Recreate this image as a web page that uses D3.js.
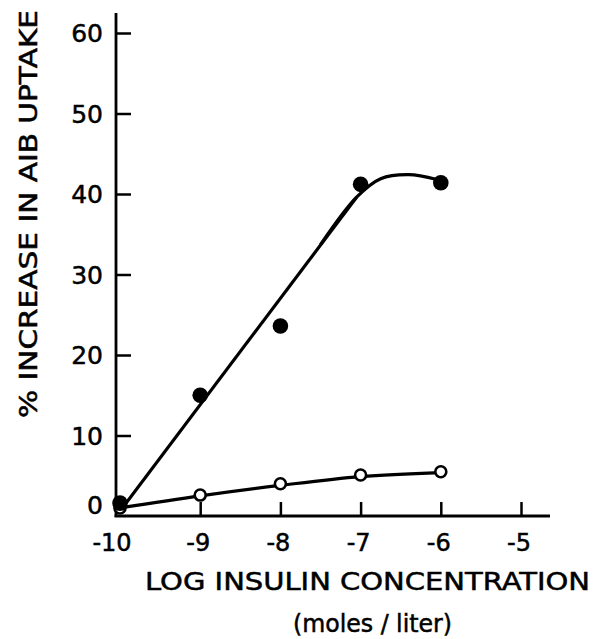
<!DOCTYPE html>
<html>
<head>
<meta charset="utf-8">
<script src="https://cdn.jsdelivr.net/npm/d3@7"></script>
<style>
  body { margin: 0; background: #fff; }
  text { font-family: "DejaVu Sans", sans-serif; fill: #000; stroke: #000; stroke-width: 0.5; }
</style>
</head>
<body>
<div id="graph"></div>
<script>
var svgWidth = 602;
var svgHeight = 639;

// text
var yAxisTitleText = "% INCREASE IN AIB UPTAKE";
var xAxisTitleText = "LOG INSULIN CONCENTRATION";
var xAxisUnitText = "(moles / liter)";

// data
var logConc = [-10, -9, -8, -7, -6];
var insulinFilled = [1.6, 15.0, 23.6, 41.2, 41.4];
var insulinOpen = [1.0, 2.6, 4.0, 5.1, 5.5];

// hand-drawn fitted line: straight part, then the bend at the top
var fitStraightX = [-10, -7.05];
var fitStraightY = [0.6, 39.6];
var fitBendX = [-7.5, -7.05, -6.75, -6.4, -6.05];
var fitBendY = [33.7, 39.6, 41.9, 42.4, 41.8];

// hand-drawn line through the open points
var openLineX = [-10, -9, -8, -7, -6];
var openLineY = [1.0, 2.5, 3.8, 4.9, 5.4];

var xTicks = [-10, -9, -8, -7, -6, -5];
var yTicks = [0, 10, 20, 30, 40, 50, 60];

var xScale = d3.scaleLinear().domain([-10, -5]).range([120, 521]);
var yScale = d3.scaleLinear().domain([0, 60]).range([516, 33]);

var axisX = 116;   // y axis line position
var axisY = 516;   // x axis line position

var svg = d3.select("#graph")
  .append("svg")
  .attr("width", svgWidth)
  .attr("height", svgHeight);

// y axis
var yAxisGroup = svg.append("g").attr("transform", "translate(" + axisX + ",0)");
yAxisGroup.call(d3.axisRight(yScale).tickValues(yTicks.slice(1)).tickSize(15).tickFormat(""));
yAxisGroup.select(".domain").remove();
yAxisGroup.selectAll(".tick line").attr("stroke", "#000").attr("stroke-width", 2.5);
yAxisGroup.append("line")
  .attr("x1", 0).attr("x2", 0)
  .attr("y1", 13).attr("y2", axisY + 1)
  .attr("stroke", "#000").attr("stroke-width", 2.8);

// y tick labels
svg.append("g").selectAll("text")
  .data(yTicks)
  .enter().append("text")
  .attr("x", 103)
  .attr("y", function(d) { return yScale(d) + (d === 0 ? -2 : 9); })
  .attr("text-anchor", "end")
  .attr("font-size", 25)
  .text(function(d) { return d; });

// x axis
var xAxisGroup = svg.append("g").attr("transform", "translate(0," + axisY + ")");
xAxisGroup.call(d3.axisTop(xScale).tickValues(xTicks.slice(1)).tickSize(14).tickFormat(""));
xAxisGroup.select(".domain").remove();
xAxisGroup.selectAll(".tick line").attr("stroke", "#000").attr("stroke-width", 2.5);
xAxisGroup.append("line")
  .attr("x1", axisX - 1.4).attr("x2", 550)
  .attr("y1", 0).attr("y2", 0)
  .attr("stroke", "#000").attr("stroke-width", 2.8);

// x tick labels
svg.append("g").selectAll("text")
  .data(xTicks)
  .enter().append("text")
  .attr("x", function(d) { return xScale(d) - (d === -10 ? 8 : 2); })
  .attr("y", 551)
  .attr("text-anchor", "middle")
  .attr("font-size", 24)
  .text(function(d) { return "-" + Math.abs(d); });

// axis titles
svg.append("text")
  .attr("x", 145)
  .attr("y", 590)
  .attr("font-size", 24)
  .attr("textLength", 445)
  .attr("lengthAdjust", "spacingAndGlyphs")
  .text(xAxisTitleText);

svg.append("text")
  .attr("x", 293)
  .attr("y", 632)
  .attr("font-size", 24)
  .attr("textLength", 159)
  .attr("lengthAdjust", "spacingAndGlyphs")
  .text(xAxisUnitText);

svg.append("text")
  .attr("transform", "translate(37,418) rotate(-90)")
  .attr("x", 0)
  .attr("y", 0)
  .attr("font-size", 24)
  .attr("textLength", 408)
  .attr("lengthAdjust", "spacingAndGlyphs")
  .text(yAxisTitleText);

// lines
var straightLine = d3.line()
  .x(function(d) { return xScale(d[0]); })
  .y(function(d) { return yScale(d[1]); });

var bendLine = d3.line()
  .x(function(d) { return xScale(d[0]); })
  .y(function(d) { return yScale(d[1]); })
  .curve(d3.curveCatmullRom);

svg.append("path")
  .datum(d3.zip(fitStraightX, fitStraightY))
  .attr("d", straightLine)
  .attr("fill", "none")
  .attr("stroke", "#000")
  .attr("stroke-width", 3.2);

svg.append("path")
  .datum(d3.zip(fitBendX, fitBendY))
  .attr("d", bendLine)
  .attr("fill", "none")
  .attr("stroke", "#000")
  .attr("stroke-width", 3.2);

svg.append("path")
  .datum(d3.zip(openLineX, openLineY))
  .attr("d", bendLine)
  .attr("fill", "none")
  .attr("stroke", "#000")
  .attr("stroke-width", 3.2);

// open points
svg.append("g").selectAll("circle")
  .data(d3.zip(logConc, insulinOpen))
  .enter().append("circle")
  .attr("cx", function(d) { return xScale(d[0]); })
  .attr("cy", function(d) { return yScale(d[1]); })
  .attr("r", 5.5)
  .attr("fill", "#fff")
  .attr("stroke", "#000")
  .attr("stroke-width", 2.6);

// filled points
svg.append("g").selectAll("circle")
  .data(d3.zip(logConc, insulinFilled))
  .enter().append("circle")
  .attr("cx", function(d) { return xScale(d[0]); })
  .attr("cy", function(d) { return yScale(d[1]); })
  .attr("r", 7.8)
  .attr("fill", "#000");
</script>
</body>
</html>
